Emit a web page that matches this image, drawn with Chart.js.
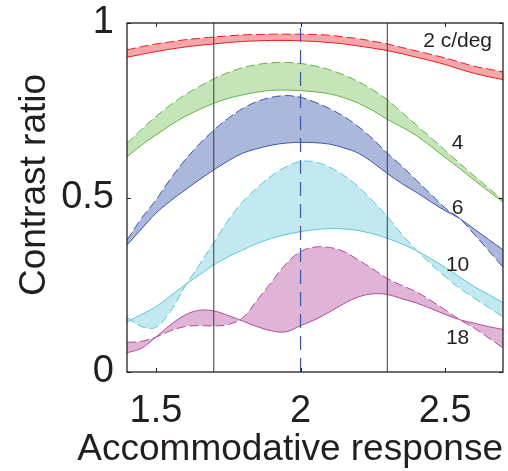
<!DOCTYPE html>
<html>
<head>
<meta charset="utf-8">
<script src="https://cdn.jsdelivr.net/npm/chart.js@4"></script>
<style>
  html, body { margin: 0; padding: 0; background: #fff; }
  #wrap { width: 508px; height: 471px; }
</style>
</head>
<body>
<div id="wrap"><canvas id="myChart"></canvas></div>
<script>
// accommodative response (x) and contrast ratio per spatial frequency band
const xs = [1.40, 1.45, 1.50, 1.55, 1.60, 1.65, 1.70, 1.75, 1.80, 1.85, 1.90, 1.95, 2.00, 2.05,
            2.10, 2.15, 2.20, 2.25, 2.30, 2.35, 2.40, 2.45, 2.50, 2.55, 2.60, 2.65, 2.70];

const f2Dashed  = [.923, .932, .940, .946, .952, .956, .960, .963, .966, .967, .968, .968, .968, .967,
                   .965, .960, .955, .948, .940, .930, .920, .910, .900, .888, .876, .868, .860];
const f2Solid   = [.902, .910, .918, .925, .931, .936, .940, .944, .947, .949, .950, .950, .949, .947,
                   .944, .940, .934, .928, .921, .912, .902, .892, .881, .868, .856, .846, .838];
const f4Dashed  = [.655, .695, .732, .765, .794, .818, .840, .858, .872, .881, .886, .887, .884, .877,
                   .866, .851, .832, .808, .780, .744, .708, .672, .635, .598, .562, .527, .492];
const f4Solid   = [.617, .650, .679, .707, .732, .752, .770, .784, .794, .802, .807, .808, .806, .803,
                   .797, .786, .770, .749, .724, .702, .678, .647, .615, .583, .550, .518, .487];
const f6Dashed  = [.378, .440, .493, .553, .607, .653, .693, .727, .755, .775, .787, .792, .787, .773,
                   .755, .732, .703, .668, .627, .590, .550, .510, .470, .440, .395, .348, .300];
const f6Solid   = [.364, .410, .455, .490, .521, .551, .579, .605, .627, .640, .650, .656, .658, .657,
                   .653, .642, .627, .600, .569, .540, .515, .488, .462, .440, .410, .380, .350];
const f10Dashed = [.157, .130, .128, .173, .245, .307, .370, .435, .488, .528, .562, .588, .603, .602,
                   .587, .563, .531, .490, .445, .395, .350, .310, .273, .240, .212, .185, .158];
const f10Solid  = [.143, .165, .187, .218, .249, .278, .307, .330, .350, .368, .383, .394, .402, .408,
                   .411, .410, .405, .396, .383, .367, .348, .325, .300, .272, .245, .222, .199];
const f18Dashed = [.085, .088, .100, .118, .130, .133, .132, .136, .155, .206, .258, .310, .345, .358,
                   .357, .345, .321, .295, .268, .248, .230, .205, .178, .150, .126, .098, .069];
const f18Solid  = [.055, .068, .100, .135, .163, .177, .175, .162, .146, .130, .118, .115, .133, .150,
                   .172, .196, .215, .224, .222, .210, .198, .182, .165, .150, .140, .130, .122];

const bandNames = ['2 c/deg', '4', '6', '10', '18'];
const xTicks = [1.5, 2, 2.5];
const yTicks = [0, 0.5, 1];
const markerX = [1.7, 2.3];
const focusX = 2.0;

const lineColors = ['#ec1c24', '#5fb446', '#3b55a5', '#5cc6d6', '#b3479b'];
const fillColors = ['#f7a6a9', '#c5e5b8', '#abb8dc', '#c1e9ef', '#e0b4d7'];
const bands = [[f2Dashed, f2Solid], [f4Dashed, f4Solid], [f6Dashed, f6Solid], [f10Dashed, f10Solid], [f18Dashed, f18Solid]];

// where the band names sit (data coords)
const labelX = 2.543;
const labelY = [0.948, 0.656, 0.47, 0.307, 0.097];

const ink = '#231f20';
const fontFam = '"Liberation Sans", Arial, Helvetica, sans-serif';

function pts(ys) {
    return ys.map((y, i) => ({ x: xs[i], y: y }));
}

const datasets = [];
// reference lines first so they are painted on top
markerX.forEach(function (v) {
    datasets.push({ data: [{ x: v, y: 0 }, { x: v, y: 1 }], borderColor: '#3a3a3a', borderWidth: 1, pointRadius: 0, fill: false });
});
datasets.push({ data: [{ x: focusX, y: 0 }, { x: focusX, y: 1 }], borderColor: '#3b55a5', borderWidth: 1.2,
    borderDash: [14, 8], pointRadius: 0, fill: false });

bands.forEach(function (b, k) {
    datasets.push({ data: pts(b[0]), borderColor: lineColors[k], borderWidth: 1, borderDash: [9, 4],
        pointRadius: 0, tension: 0.35, fill: false });
    datasets.push({ data: pts(b[1]), borderColor: lineColors[k], borderWidth: 1, pointRadius: 0,
        tension: 0.35, fill: '-1', backgroundColor: fillColors[k] });
});

const frame = {
    id: 'frame',
    afterDatasetsDraw(chart) {
        const { ctx, chartArea: a, scales: { x, y } } = chart;
        ctx.save();
        ctx.strokeStyle = ink;
        ctx.lineWidth = 1.3;
        ctx.strokeRect(a.left, a.top, a.right - a.left, a.bottom - a.top);
        ctx.lineWidth = 1;
        ctx.beginPath();
        xTicks.forEach(function (v) {
            const px = Math.round(x.getPixelForValue(v)) + 0.5;
            ctx.moveTo(px, a.bottom); ctx.lineTo(px, a.bottom - 4);
            ctx.moveTo(px, a.top); ctx.lineTo(px, a.top + 4);
        });
        yTicks.forEach(function (v) {
            const py = Math.round(y.getPixelForValue(v)) + 0.5;
            ctx.moveTo(a.left, py); ctx.lineTo(a.left + 4, py);
            ctx.moveTo(a.right, py); ctx.lineTo(a.right - 4, py);
        });
        ctx.stroke();

        ctx.fillStyle = ink;
        ctx.font = '21px ' + fontFam;
        ctx.textAlign = 'center';
        ctx.textBaseline = 'middle';
        bandNames.forEach(function (n, k) {
            ctx.fillText(n, x.getPixelForValue(labelX), y.getPixelForValue(labelY[k]));
        });

        // axis titles (drawn here so the long x title is not squeezed to the plot width)
        ctx.font = '37px ' + fontFam;
        ctx.textBaseline = 'alphabetic';
        ctx.textAlign = 'right';
        ctx.fillText('Accommodative response', a.right, 460);
        ctx.translate(45, 185);
        ctx.rotate(-Math.PI / 2);
        ctx.textAlign = 'center';
        ctx.fillText('Contrast ratio', 0, 0);
        ctx.restore();
    }
};

new Chart(document.getElementById('myChart'), {
    type: 'line',
    data: { datasets: datasets },
    options: {
        responsive: true,
        maintainAspectRatio: false,
        animation: false,
        layout: { padding: { left: 0, right: 5, top: 23, bottom: 0 } },
        plugins: { legend: { display: false }, tooltip: { enabled: false } },
        scales: {
            x: {
                type: 'linear', min: 1.4, max: 2.7,
                afterBuildTicks: s => { s.ticks = xTicks.map(v => ({ value: v })); },
                afterFit: s => { s.height = 99; s.paddingLeft = 0; s.paddingRight = 0; },
                grid: { display: false, drawTicks: false },
                border: { display: false },
                ticks: { color: ink, padding: 17, font: { family: fontFam, size: 38 }, callback: v => String(v) }
            },
            y: {
                min: 0, max: 1,
                afterBuildTicks: s => { s.ticks = yTicks.map(v => ({ value: v })); },
                afterFit: s => { s.width = 127; s.paddingTop = 0; s.paddingBottom = 0; },
                grid: { display: false, drawTicks: false },
                border: { display: false },
                ticks: { color: ink, padding: 13, font: { family: fontFam, size: 38 }, callback: v => String(v) }
            }
        }
    },
    plugins: [frame]
});
</script>
</body>
</html>
